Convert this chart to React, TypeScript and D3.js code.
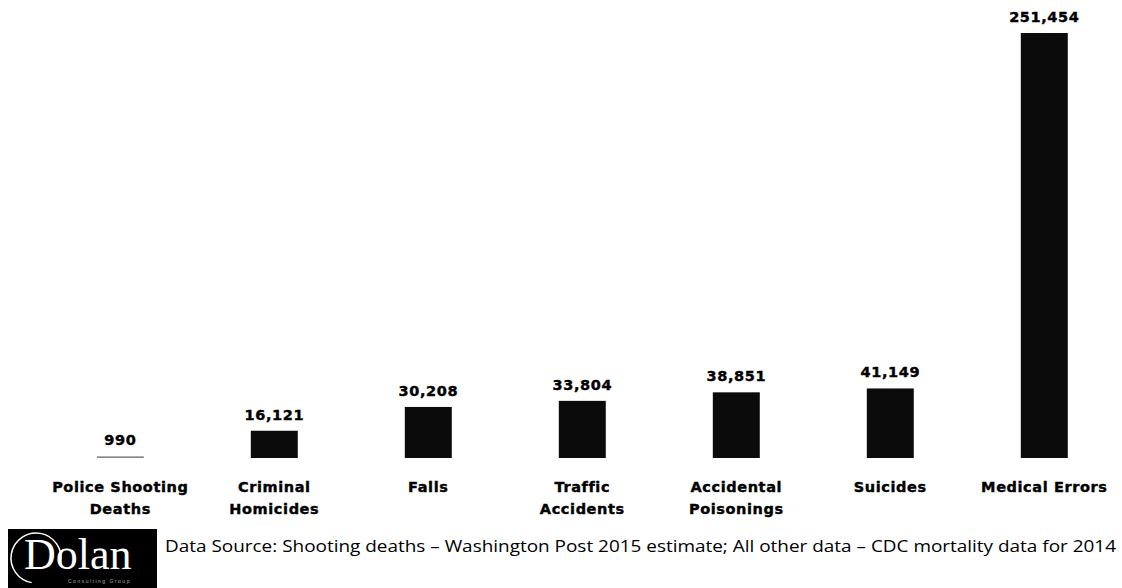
import React from "react";
import * as d3 from "d3";

const categories: string[][] = [
  ["Police Shooting", "Deaths"],
  ["Criminal", "Homicides"],
  ["Falls"],
  ["Traffic", "Accidents"],
  ["Accidental", "Poisonings"],
  ["Suicides"],
  ["Medical Errors"],
];
const values: number[] = [990, 16121, 30208, 33804, 38851, 41149, 251454];
const valueLabels: string[] = ["990", "16,121", "30,208", "33,804", "38,851", "41,149", "251,454"];
const sourceText =
  "Data Source:  Shooting deaths \u2013 Washington Post 2015 estimate; All other data \u2013 CDC mortality data for 2014";

const W = 1122;
const H = 588;
const BASE = 458;
const TOP = 33;

export default function App() {
  const keys = categories.map((c) => c.join(" "));
  const x = d3
    .scaleBand<string>()
    .domain(keys)
    .range([43.3, 1121.3])
    .paddingInner(0.695)
    .paddingOuter(0.3475);
  const y = d3
    .scaleLinear()
    .domain([0, d3.max(values) as number])
    .range([BASE, TOP]);

  const boldFont = "'DejaVu Sans', sans-serif";

  return (
    <svg
      width={W}
      height={H}
      style={{ position: "absolute", left: 0, top: 0, background: "#fff" }}
    >
      <rect x={0} y={0} width={W} height={H} fill="#fff" />
      {keys.map((k, i) => {
        const cx = (x(k) as number) + x.bandwidth() / 2;
        const yTop = y(values[i]);
        return (
          <g key={k}>
            <rect
              x={x(k)}
              y={yTop}
              width={x.bandwidth()}
              height={BASE - yTop}
              fill={i === 0 ? "#888" : "#0b0b0b"}
            />
            <text
              x={cx}
              y={yTop - 11}
              textAnchor="middle"
              fontFamily={boldFont}
              fontWeight="bold"
              fontSize={14.5}
              letterSpacing={0.6}
              fill="#000"
              stroke="#000"
              strokeWidth={0.4}
            >
              {valueLabels[i]}
            </text>
            {categories[i].map((line, j) => (
              <text
                key={j}
                x={cx}
                y={492 + j * 22}
                textAnchor="middle"
                fontFamily={boldFont}
                fontWeight="bold"
                fontSize={14.5}
                letterSpacing={0.6}
                fill="#000"
                stroke="#000"
                strokeWidth={0.4}
              >
                {line}
              </text>
            ))}
          </g>
        );
      })}

      {/* Logo */}
      <g>
        <rect x={8} y={529} width={149} height={59} fill="#000" />
        <ellipse
          cx={36}
          cy={558}
          rx={25}
          ry={25}
          fill="none"
          stroke="#fff"
          strokeWidth={1.5}
          strokeDasharray="120 40"
          transform="rotate(100 36 558)"
        />
        <text
          x={24}
          y={569}
          fontFamily="'Liberation Serif', 'DejaVu Serif', serif"
          fontSize={44}
          fill="#fff"
        >
          Dolan
        </text>
        <text
          x={68}
          y={583}
          fontFamily="'Liberation Sans', sans-serif"
          fontSize={5}
          fill="#aaa"
          letterSpacing={1.5}
        >
          Consulting Group
        </text>
      </g>

      <text
        x={165}
        y={552}
        fontFamily="'Open Sans', 'Liberation Sans', sans-serif"
        fontSize={16.5}
        fill="#000"
        textLength={951}
        lengthAdjust="spacingAndGlyphs"
      >
        {sourceText}
      </text>
    </svg>
  );
}
